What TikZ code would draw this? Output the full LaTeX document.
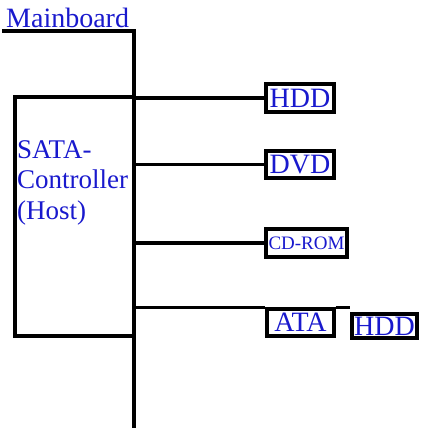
\documentclass[tikz,border=0pt]{standalone}
\usepackage{fontspec}
\setmainfont{Liberation Serif}
\definecolor{txtblue}{RGB}{25,25,205}
\begin{document}
\begin{tikzpicture}[x=1pt,y=-1pt,
  wire/.style={line width=3.2pt},
  lbl/.style={text=txtblue, inner sep=0pt, font=\fontsize{28}{30}\selectfont},
  dev/.style={draw, line width=3.2pt, inner sep=0pt, text=txtblue, font=\fontsize{28}{30}\selectfont}]
\useasboundingbox (0,0) rectangle (423,430);
% Mainboard bus
\node[lbl, anchor=base west] (mb) at (6,28) {Mainboard};
\coordinate (ul) at (2,31);
\coordinate (busTop) at (134,31);
\coordinate (busBot) at (134,428);
\draw[wire] (ul) -- (busTop) -- (busBot);
% Controller
\node[draw, line width=3.2pt, minimum width=119pt, minimum height=239pt, inner sep=0pt] (ctrl) at (74.5,216.5) {};
\node[lbl, anchor=base west, align=left, font=\fontsize{27}{30.5}\selectfont] (ctrltxt) at (17,219) {SATA-\\Controller\\(Host)};
% Devices
\node[dev, minimum width=68pt, minimum height=28pt] (hdd) at (300,98) {HDD};
\node[dev, minimum width=68pt, minimum height=27pt] (dvd) at (300,164.5) {DVD};
\node[dev, minimum width=81pt, minimum height=28pt, font=\fontsize{19}{21}\selectfont] (cdrom) at (306.5,243) {CD-ROM};
\node[dev, minimum width=67pt, minimum height=27pt] (ata) at (300.5,322.5) {ATA};
\node[dev, minimum width=65pt, minimum height=24pt] (hdd2) at (384.5,326) {HDD};
% Connectors
\draw[wire] (busTop |- hdd.west) -- (hdd.west);
\draw[wire] (busTop |- dvd.west) -- (dvd.west);
\draw[wire] (busTop |- cdrom.west) -- (cdrom.west);
\draw[wire] (busTop |- ata.north west) -- (ata.north west);
\draw[wire] (ata.north east) -- (hdd2.west |- ata.north);
\end{tikzpicture}
\end{document}
